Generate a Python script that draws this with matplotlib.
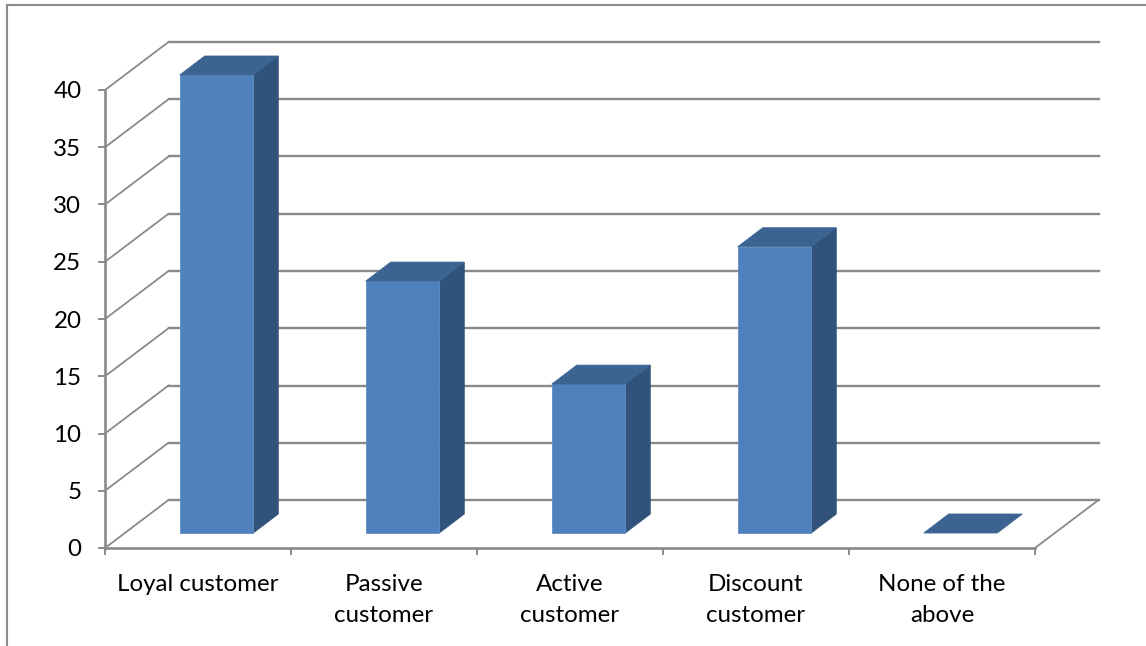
import matplotlib
matplotlib.use("Agg")
import matplotlib.pyplot as plt
from matplotlib.lines import Line2D
from matplotlib.patches import Polygon

categories = ["Loyal customer", "Passive\ncustomer", "Active\ncustomer", "Discount\ncustomer", "None of the\nabove"]
values = [40, 22, 13, 25, 0]
y_ticks = [0, 5, 10, 15, 20, 25, 30, 35, 40]

W, H = 1146, 646
LEFT, RIGHT, TOP, BOTTOM = 105.0, 1035.0, 90.0, 548.0
PX_X = (RIGHT - LEFT) / len(categories)
PX_Y = (BOTTOM - TOP) / 40.0

# 3D projection offsets, in axis units
WALL_DX, WALL_DY = 63.5 / PX_X, 48 / PX_Y
BAR_DX, BAR_DY = 25 / PX_X, 19 / PX_Y
BAR_X, BAR_Y = 18.5 / PX_X, 15 / PX_Y
BAR_W = 73.5 / PX_X

GRID = "#8A8A8A"
FRONT, SIDE, CAP = "#4F81BD", "#31527B", "#3C6493"

plt.rcParams["font.family"] = ["Lato", "DejaVu Sans"]
fig = plt.figure(figsize=(W / 100, H / 100), dpi=100, facecolor="white")
ax = fig.add_axes([LEFT / W, 1 - BOTTOM / H, (RIGHT - LEFT) / W, (BOTTOM - TOP) / H])
ax.set_xlim(0, len(categories))
ax.set_ylim(0, 40)
ax.patch.set_visible(False)
for s in ("top", "right"):
    ax.spines[s].set_visible(False)
for s in ("left", "bottom"):
    ax.spines[s].set_color(GRID)
    ax.spines[s].set_linewidth(1.9)

# Walls and floor
n = len(categories)
for v in y_ticks:
    ax.plot([0, WALL_DX], [v, v + WALL_DY], color=GRID, lw=1.3, clip_on=False, zorder=1)
    ax.plot([WALL_DX, n + WALL_DX], [v + WALL_DY, v + WALL_DY], color=GRID, lw=1.7, clip_on=False, zorder=1)
ax.plot([n, n + WALL_DX], [0, WALL_DY], color=GRID, lw=1.3, clip_on=False, zorder=1)

# Bars
for i, v in enumerate(values):
    x0 = i + 0.5 + BAR_X - BAR_W / 2
    x1 = x0 + BAR_W
    y0 = BAR_Y
    y1 = v + BAR_Y
    kw = dict(clip_on=False, zorder=3, lw=0.6, joinstyle="miter")
    if v > 0:
        ax.add_patch(Polygon([(x1, y0), (x1 + BAR_DX, y0 + BAR_DY), (x1 + BAR_DX, y1 + BAR_DY), (x1, y1)],
                             facecolor=SIDE, edgecolor=SIDE, **kw))
        ax.add_patch(Polygon([(x0, y0), (x1, y0), (x1, y1), (x0, y1)],
                             facecolor=FRONT, edgecolor="#5F8DC4", **kw))
    ax.add_patch(Polygon([(x0, y1), (x1, y1), (x1 + BAR_DX, y1 + BAR_DY), (x0 + BAR_DX, y1 + BAR_DY)],
                         facecolor=CAP, edgecolor=CAP, **kw))

# Axes text and ticks
ax.set_yticks(y_ticks)
ax.tick_params(axis="y", length=5, width=1.4, color=GRID, labelsize=17.4, pad=12, labelcolor="black")
ax.set_xticks(range(n + 1))
ax.tick_params(axis="x", which="major", length=5, width=1.4, color=GRID, labelbottom=False)
ax.set_xticks([i + 0.5 for i in range(n)], minor=True)
ax.set_xticklabels(categories, minor=True, fontsize=17.4, linespacing=1.57)
ax.tick_params(axis="x", which="minor", length=0, pad=19, labelcolor="black")

# Chart frame (top and left edges are all that is visible)
fig.add_artist(Line2D([7 / W, 7 / W], [0, 1 - 5 / H], color="#8C8C8C", lw=1.5, transform=fig.transFigure))
fig.add_artist(Line2D([7 / W, 1], [1 - 5 / H, 1 - 5 / H], color="#8C8C8C", lw=1.5, transform=fig.transFigure))

fig.savefig("out.png", dpi=100, facecolor="white")
